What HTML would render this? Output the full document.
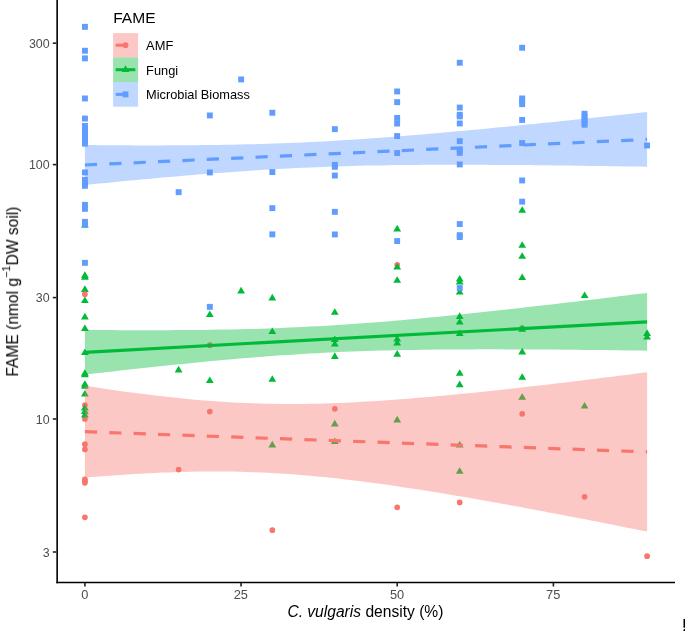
<!DOCTYPE html>
<html><head><meta charset="utf-8"><style>
html,body{margin:0;padding:0;background:#fff;}
svg{display:block;font-family:"Liberation Sans",sans-serif;}
</style></head><body>
<svg width="685" height="631" viewBox="0 0 685 631">
<rect width="685" height="631" fill="#fff"/>
<g fill="#F8766D">
<circle cx="84.9" cy="405.0" r="2.85"/>
<circle cx="84.9" cy="419.0" r="2.85"/>
<circle cx="84.9" cy="444.2" r="2.85"/>
<circle cx="84.9" cy="449.4" r="2.85"/>
<circle cx="84.9" cy="479.4" r="2.85"/>
<circle cx="84.9" cy="481.2" r="2.85"/>
<circle cx="84.9" cy="482.8" r="2.85"/>
<circle cx="84.9" cy="517.3" r="2.85"/>
<circle cx="178.6" cy="469.6" r="2.85"/>
<circle cx="209.8" cy="345.2" r="2.85"/>
<circle cx="209.8" cy="411.6" r="2.85"/>
<circle cx="272.3" cy="530.2" r="2.85"/>
<circle cx="334.8" cy="408.8" r="2.85"/>
<circle cx="397.2" cy="264.8" r="2.85"/>
<circle cx="397.2" cy="507.4" r="2.85"/>
<circle cx="459.7" cy="502.4" r="2.85"/>
<circle cx="522.2" cy="328.0" r="2.85"/>
<circle cx="522.2" cy="413.8" r="2.85"/>
<circle cx="584.6" cy="496.8" r="2.85"/>
<circle cx="647.1" cy="556.2" r="2.85"/>
</g>
<g fill="#00BA38">
<path d="M84.9,221.0 L88.8,227.6 L81.0,227.6Z"/>
<path d="M84.9,271.2 L88.8,277.9 L81.0,277.9Z"/>
<path d="M84.9,273.1 L88.8,279.7 L81.0,279.7Z"/>
<path d="M84.9,285.2 L88.8,291.9 L81.0,291.9Z"/>
<path d="M84.9,296.4 L88.8,303.0 L81.0,303.0Z"/>
<path d="M84.9,312.8 L88.8,319.4 L81.0,319.4Z"/>
<path d="M84.9,324.4 L88.8,331.1 L81.0,331.1Z"/>
<path d="M84.9,348.4 L88.8,355.0 L81.0,355.0Z"/>
<path d="M84.9,369.2 L88.8,375.8 L81.0,375.8Z"/>
<path d="M84.9,370.6 L88.8,377.2 L81.0,377.2Z"/>
<path d="M84.9,380.2 L88.8,386.8 L81.0,386.8Z"/>
<path d="M84.9,382.2 L88.8,388.8 L81.0,388.8Z"/>
<path d="M84.9,389.9 L88.8,396.5 L81.0,396.5Z"/>
<path d="M84.9,403.8 L88.8,410.4 L81.0,410.4Z"/>
<path d="M84.9,407.2 L88.8,413.9 L81.0,413.9Z"/>
<path d="M84.9,410.8 L88.8,417.4 L81.0,417.4Z"/>
<path d="M178.6,365.8 L182.5,372.4 L174.7,372.4Z"/>
<path d="M209.8,310.4 L213.7,317.0 L205.9,317.0Z"/>
<path d="M209.8,376.4 L213.7,383.0 L205.9,383.0Z"/>
<path d="M241.1,286.8 L245.0,293.4 L237.2,293.4Z"/>
<path d="M272.3,293.8 L276.2,300.4 L268.4,300.4Z"/>
<path d="M272.3,327.4 L276.2,334.0 L268.4,334.0Z"/>
<path d="M272.3,375.2 L276.2,381.8 L268.4,381.8Z"/>
<path d="M272.3,440.8 L276.2,447.4 L268.4,447.4Z"/>
<path d="M334.8,308.2 L338.7,314.8 L330.9,314.8Z"/>
<path d="M334.8,335.4 L338.7,342.1 L330.9,342.1Z"/>
<path d="M334.8,339.9 L338.7,346.5 L330.9,346.5Z"/>
<path d="M334.8,352.2 L338.7,358.9 L330.9,358.9Z"/>
<path d="M334.8,419.8 L338.7,426.4 L330.9,426.4Z"/>
<path d="M334.8,437.4 L338.7,444.0 L330.9,444.0Z"/>
<path d="M397.2,224.8 L401.1,231.4 L393.3,231.4Z"/>
<path d="M397.2,262.9 L401.1,269.5 L393.3,269.5Z"/>
<path d="M397.2,276.2 L401.1,282.8 L393.3,282.8Z"/>
<path d="M397.2,334.9 L401.1,341.5 L393.3,341.5Z"/>
<path d="M397.2,338.9 L401.1,345.5 L393.3,345.5Z"/>
<path d="M397.2,350.1 L401.1,356.7 L393.3,356.7Z"/>
<path d="M397.2,415.8 L401.1,422.4 L393.3,422.4Z"/>
<path d="M459.7,274.9 L463.6,281.5 L455.8,281.5Z"/>
<path d="M459.7,277.9 L463.6,284.5 L455.8,284.5Z"/>
<path d="M459.7,287.9 L463.6,294.5 L455.8,294.5Z"/>
<path d="M459.7,312.2 L463.6,318.9 L455.8,318.9Z"/>
<path d="M459.7,317.9 L463.6,324.5 L455.8,324.5Z"/>
<path d="M459.7,329.4 L463.6,336.0 L455.8,336.0Z"/>
<path d="M459.7,369.2 L463.6,375.8 L455.8,375.8Z"/>
<path d="M459.7,380.6 L463.6,387.2 L455.8,387.2Z"/>
<path d="M459.7,440.9 L463.6,447.5 L455.8,447.5Z"/>
<path d="M459.7,467.2 L463.6,473.8 L455.8,473.8Z"/>
<path d="M522.2,206.2 L526.1,212.8 L518.3,212.8Z"/>
<path d="M522.2,241.2 L526.1,247.8 L518.3,247.8Z"/>
<path d="M522.2,252.2 L526.1,258.8 L518.3,258.8Z"/>
<path d="M522.2,273.4 L526.1,280.0 L518.3,280.0Z"/>
<path d="M522.2,325.2 L526.1,331.8 L518.3,331.8Z"/>
<path d="M522.2,347.8 L526.1,354.4 L518.3,354.4Z"/>
<path d="M522.2,373.2 L526.1,379.8 L518.3,379.8Z"/>
<path d="M522.2,393.2 L526.1,399.8 L518.3,399.8Z"/>
<path d="M584.6,291.4 L588.5,298.1 L580.7,298.1Z"/>
<path d="M584.6,401.9 L588.5,408.5 L580.7,408.5Z"/>
<path d="M647.1,329.2 L651.0,335.9 L643.2,335.9Z"/>
<path d="M647.1,332.9 L651.0,339.5 L643.2,339.5Z"/>
</g>
<g fill="#F8766D"><circle cx="84.9" cy="294.2" r="2.85"/></g>
<g fill="#619CFF">
<rect x="82.0" y="23.9" width="5.9" height="5.9"/>
<rect x="82.0" y="47.8" width="5.9" height="5.9"/>
<rect x="82.0" y="55.4" width="5.9" height="5.9"/>
<rect x="82.0" y="95.5" width="5.9" height="5.9"/>
<rect x="82.0" y="115.6" width="5.9" height="5.9"/>
<rect x="82.0" y="123.0" width="5.9" height="5.9"/>
<rect x="82.0" y="126.0" width="5.9" height="5.9"/>
<rect x="82.0" y="129.1" width="5.9" height="5.9"/>
<rect x="82.0" y="132.1" width="5.9" height="5.9"/>
<rect x="82.0" y="135.1" width="5.9" height="5.9"/>
<rect x="82.0" y="138.1" width="5.9" height="5.9"/>
<rect x="82.0" y="140.7" width="5.9" height="5.9"/>
<rect x="82.0" y="169.5" width="5.9" height="5.9"/>
<rect x="82.0" y="176.9" width="5.9" height="5.9"/>
<rect x="82.0" y="180.1" width="5.9" height="5.9"/>
<rect x="82.0" y="182.9" width="5.9" height="5.9"/>
<rect x="82.0" y="201.9" width="5.9" height="5.9"/>
<rect x="82.0" y="205.9" width="5.9" height="5.9"/>
<rect x="82.0" y="218.9" width="5.9" height="5.9"/>
<rect x="82.0" y="221.9" width="5.9" height="5.9"/>
<rect x="82.0" y="259.9" width="5.9" height="5.9"/>
<rect x="175.7" y="189.2" width="5.9" height="5.9"/>
<rect x="206.9" y="112.5" width="5.9" height="5.9"/>
<rect x="206.9" y="169.5" width="5.9" height="5.9"/>
<rect x="206.9" y="303.9" width="5.9" height="5.9"/>
<rect x="238.2" y="76.5" width="5.9" height="5.9"/>
<rect x="269.4" y="109.8" width="5.9" height="5.9"/>
<rect x="269.4" y="169.1" width="5.9" height="5.9"/>
<rect x="269.4" y="205.2" width="5.9" height="5.9"/>
<rect x="269.4" y="231.4" width="5.9" height="5.9"/>
<rect x="331.9" y="126.2" width="5.9" height="5.9"/>
<rect x="331.9" y="161.9" width="5.9" height="5.9"/>
<rect x="331.9" y="163.9" width="5.9" height="5.9"/>
<rect x="331.9" y="172.6" width="5.9" height="5.9"/>
<rect x="331.9" y="208.9" width="5.9" height="5.9"/>
<rect x="331.9" y="231.5" width="5.9" height="5.9"/>
<rect x="394.2" y="88.5" width="5.9" height="5.9"/>
<rect x="394.2" y="99.2" width="5.9" height="5.9"/>
<rect x="394.2" y="115.0" width="5.9" height="5.9"/>
<rect x="394.2" y="120.6" width="5.9" height="5.9"/>
<rect x="394.2" y="133.1" width="5.9" height="5.9"/>
<rect x="394.2" y="150.1" width="5.9" height="5.9"/>
<rect x="394.2" y="238.1" width="5.9" height="5.9"/>
<rect x="456.8" y="59.8" width="5.9" height="5.9"/>
<rect x="456.8" y="104.6" width="5.9" height="5.9"/>
<rect x="456.8" y="111.8" width="5.9" height="5.9"/>
<rect x="456.8" y="113.5" width="5.9" height="5.9"/>
<rect x="456.8" y="120.5" width="5.9" height="5.9"/>
<rect x="456.8" y="138.2" width="5.9" height="5.9"/>
<rect x="456.8" y="146.9" width="5.9" height="5.9"/>
<rect x="456.8" y="149.9" width="5.9" height="5.9"/>
<rect x="456.8" y="161.5" width="5.9" height="5.9"/>
<rect x="456.8" y="221.1" width="5.9" height="5.9"/>
<rect x="456.8" y="232.2" width="5.9" height="5.9"/>
<rect x="456.8" y="234.1" width="5.9" height="5.9"/>
<rect x="456.8" y="285.1" width="5.9" height="5.9"/>
<rect x="519.2" y="44.8" width="5.9" height="5.9"/>
<rect x="519.2" y="95.5" width="5.9" height="5.9"/>
<rect x="519.2" y="98.3" width="5.9" height="5.9"/>
<rect x="519.2" y="101.2" width="5.9" height="5.9"/>
<rect x="519.2" y="117.0" width="5.9" height="5.9"/>
<rect x="519.2" y="140.1" width="5.9" height="5.9"/>
<rect x="519.2" y="177.5" width="5.9" height="5.9"/>
<rect x="519.2" y="198.7" width="5.9" height="5.9"/>
<rect x="581.6" y="110.8" width="5.9" height="5.9"/>
<rect x="581.6" y="114.0" width="5.9" height="5.9"/>
<rect x="581.6" y="117.0" width="5.9" height="5.9"/>
<rect x="581.6" y="119.5" width="5.9" height="5.9"/>
<rect x="581.6" y="121.8" width="5.9" height="5.9"/>
<rect x="644.1" y="142.5" width="5.9" height="5.9"/>
</g>
<path d="M84.9,385.7 L91.9,386.8 L99.0,387.8 L106.0,388.9 L113.0,389.9 L120.0,390.9 L127.1,391.9 L134.1,392.8 L141.1,393.7 L148.1,394.6 L155.2,395.5 L162.2,396.3 L169.2,397.1 L176.3,397.8 L183.3,398.6 L190.3,399.2 L197.3,399.9 L204.4,400.5 L211.4,401.0 L218.4,401.5 L225.5,402.0 L232.5,402.4 L239.5,402.7 L246.5,403.1 L253.6,403.3 L260.6,403.5 L267.6,403.7 L274.6,403.8 L281.7,403.9 L288.7,404.0 L295.7,403.9 L302.8,403.9 L309.8,403.8 L316.8,403.7 L323.8,403.5 L330.9,403.3 L337.9,403.0 L344.9,402.7 L351.9,402.4 L359.0,402.0 L366.0,401.6 L373.0,401.2 L380.1,400.8 L387.1,400.3 L394.1,399.8 L401.1,399.3 L408.2,398.7 L415.2,398.1 L422.2,397.5 L429.2,396.9 L436.3,396.3 L443.3,395.7 L450.3,395.0 L457.4,394.3 L464.4,393.6 L471.4,392.9 L478.4,392.2 L485.5,391.5 L492.5,390.7 L499.5,389.9 L506.6,389.2 L513.6,388.4 L520.6,387.6 L527.6,386.8 L534.7,386.0 L541.7,385.2 L548.7,384.4 L555.7,383.5 L562.8,382.7 L569.8,381.9 L576.8,381.0 L583.9,380.2 L590.9,379.3 L597.9,378.4 L604.9,377.5 L612.0,376.7 L619.0,375.8 L626.0,374.9 L633.0,374.0 L640.1,373.1 L647.1,372.2 L647.1,531.6 L640.1,530.2 L633.0,528.8 L626.0,527.4 L619.0,526.0 L612.0,524.6 L604.9,523.2 L597.9,521.8 L590.9,520.5 L583.9,519.1 L576.8,517.7 L569.8,516.4 L562.8,515.0 L555.7,513.7 L548.7,512.4 L541.7,511.0 L534.7,509.7 L527.6,508.4 L520.6,507.1 L513.6,505.8 L506.6,504.5 L499.5,503.2 L492.5,502.0 L485.5,500.7 L478.4,499.5 L471.4,498.3 L464.4,497.1 L457.4,495.9 L450.3,494.7 L443.3,493.5 L436.3,492.3 L429.2,491.2 L422.2,490.1 L415.2,489.0 L408.2,487.9 L401.1,486.9 L394.1,485.8 L387.1,484.8 L380.1,483.8 L373.0,482.9 L366.0,482.0 L359.0,481.1 L351.9,480.2 L344.9,479.4 L337.9,478.6 L330.9,477.8 L323.8,477.1 L316.8,476.4 L309.8,475.8 L302.8,475.2 L295.7,474.6 L288.7,474.1 L281.7,473.6 L274.6,473.2 L267.6,472.8 L260.6,472.5 L253.6,472.2 L246.5,472.0 L239.5,471.8 L232.5,471.6 L225.5,471.5 L218.4,471.5 L211.4,471.5 L204.4,471.5 L197.3,471.6 L190.3,471.7 L183.3,471.9 L176.3,472.1 L169.2,472.4 L162.2,472.6 L155.2,473.0 L148.1,473.3 L141.1,473.7 L134.1,474.1 L127.1,474.5 L120.0,475.0 L113.0,475.5 L106.0,476.0 L99.0,476.6 L91.9,477.1 L84.9,477.7Z" fill="#F8766D" fill-opacity="0.4"/>
<line x1="84.9" y1="431.7" x2="647.1" y2="451.9" stroke="#F8766D" stroke-width="3.2" stroke-dasharray="12.2 12.2"/>
<path d="M84.9,330.0 L91.9,330.0 L99.0,330.1 L106.0,330.1 L113.0,330.1 L120.0,330.2 L127.1,330.2 L134.1,330.2 L141.1,330.2 L148.1,330.2 L155.2,330.2 L162.2,330.2 L169.2,330.2 L176.3,330.1 L183.3,330.1 L190.3,330.0 L197.3,329.9 L204.4,329.9 L211.4,329.8 L218.4,329.6 L225.5,329.5 L232.5,329.4 L239.5,329.2 L246.5,329.1 L253.6,328.9 L260.6,328.7 L267.6,328.4 L274.6,328.2 L281.7,327.9 L288.7,327.6 L295.7,327.3 L302.8,327.0 L309.8,326.6 L316.8,326.3 L323.8,325.9 L330.9,325.5 L337.9,325.0 L344.9,324.6 L351.9,324.1 L359.0,323.6 L366.0,323.1 L373.0,322.5 L380.1,322.0 L387.1,321.4 L394.1,320.8 L401.1,320.2 L408.2,319.5 L415.2,318.9 L422.2,318.2 L429.2,317.6 L436.3,316.9 L443.3,316.2 L450.3,315.5 L457.4,314.8 L464.4,314.0 L471.4,313.3 L478.4,312.6 L485.5,311.8 L492.5,311.0 L499.5,310.3 L506.6,309.5 L513.6,308.7 L520.6,307.9 L527.6,307.1 L534.7,306.3 L541.7,305.5 L548.7,304.7 L555.7,303.9 L562.8,303.1 L569.8,302.2 L576.8,301.4 L583.9,300.6 L590.9,299.7 L597.9,298.9 L604.9,298.0 L612.0,297.2 L619.0,296.3 L626.0,295.5 L633.0,294.6 L640.1,293.8 L647.1,292.9 L647.1,350.7 L640.1,350.6 L633.0,350.5 L626.0,350.4 L619.0,350.3 L612.0,350.2 L604.9,350.1 L597.9,350.0 L590.9,350.0 L583.9,349.9 L576.8,349.8 L569.8,349.8 L562.8,349.7 L555.7,349.6 L548.7,349.6 L541.7,349.5 L534.7,349.5 L527.6,349.4 L520.6,349.4 L513.6,349.4 L506.6,349.4 L499.5,349.3 L492.5,349.3 L485.5,349.3 L478.4,349.3 L471.4,349.4 L464.4,349.4 L457.4,349.4 L450.3,349.5 L443.3,349.5 L436.3,349.6 L429.2,349.7 L422.2,349.8 L415.2,349.9 L408.2,350.0 L401.1,350.1 L394.1,350.3 L387.1,350.4 L380.1,350.6 L373.0,350.8 L366.0,351.0 L359.0,351.3 L351.9,351.6 L344.9,351.8 L337.9,352.1 L330.9,352.5 L323.8,352.8 L316.8,353.2 L309.8,353.6 L302.8,354.0 L295.7,354.4 L288.7,354.9 L281.7,355.3 L274.6,355.8 L267.6,356.3 L260.6,356.9 L253.6,357.4 L246.5,358.0 L239.5,358.6 L232.5,359.2 L225.5,359.8 L218.4,360.5 L211.4,361.1 L204.4,361.8 L197.3,362.5 L190.3,363.2 L183.3,363.9 L176.3,364.6 L169.2,365.3 L162.2,366.0 L155.2,366.8 L148.1,367.5 L141.1,368.3 L134.1,369.1 L127.1,369.8 L120.0,370.6 L113.0,371.4 L106.0,372.2 L99.0,373.0 L91.9,373.8 L84.9,374.6Z" fill="#00BA38" fill-opacity="0.4"/>
<line x1="84.9" y1="352.3" x2="647.1" y2="321.8" stroke="#00BA38" stroke-width="3.2"/>
<path d="M84.9,145.1 L91.9,145.1 L99.0,145.2 L106.0,145.2 L113.0,145.3 L120.0,145.3 L127.1,145.3 L134.1,145.4 L141.1,145.4 L148.1,145.4 L155.2,145.4 L162.2,145.4 L169.2,145.3 L176.3,145.3 L183.3,145.3 L190.3,145.2 L197.3,145.2 L204.4,145.1 L211.4,145.0 L218.4,144.9 L225.5,144.8 L232.5,144.7 L239.5,144.5 L246.5,144.3 L253.6,144.2 L260.6,144.0 L267.6,143.7 L274.6,143.5 L281.7,143.3 L288.7,143.0 L295.7,142.7 L302.8,142.4 L309.8,142.1 L316.8,141.7 L323.8,141.4 L330.9,141.0 L337.9,140.6 L344.9,140.1 L351.9,139.7 L359.0,139.2 L366.0,138.8 L373.0,138.3 L380.1,137.8 L387.1,137.2 L394.1,136.7 L401.1,136.2 L408.2,135.6 L415.2,135.0 L422.2,134.4 L429.2,133.8 L436.3,133.2 L443.3,132.6 L450.3,132.0 L457.4,131.3 L464.4,130.7 L471.4,130.0 L478.4,129.4 L485.5,128.7 L492.5,128.0 L499.5,127.3 L506.6,126.7 L513.6,126.0 L520.6,125.3 L527.6,124.6 L534.7,123.9 L541.7,123.1 L548.7,122.4 L555.7,121.7 L562.8,121.0 L569.8,120.2 L576.8,119.5 L583.9,118.8 L590.9,118.0 L597.9,117.3 L604.9,116.6 L612.0,115.8 L619.0,115.1 L626.0,114.3 L633.0,113.6 L640.1,112.8 L647.1,112.0 L647.1,166.8 L640.1,166.6 L633.0,166.5 L626.0,166.4 L619.0,166.3 L612.0,166.2 L604.9,166.1 L597.9,166.0 L590.9,165.9 L583.9,165.8 L576.8,165.7 L569.8,165.6 L562.8,165.5 L555.7,165.4 L548.7,165.3 L541.7,165.3 L534.7,165.2 L527.6,165.1 L520.6,165.1 L513.6,165.0 L506.6,164.9 L499.5,164.9 L492.5,164.9 L485.5,164.8 L478.4,164.8 L471.4,164.8 L464.4,164.8 L457.4,164.7 L450.3,164.7 L443.3,164.8 L436.3,164.8 L429.2,164.8 L422.2,164.8 L415.2,164.9 L408.2,165.0 L401.1,165.0 L394.1,165.1 L387.1,165.2 L380.1,165.4 L373.0,165.5 L366.0,165.6 L359.0,165.8 L351.9,166.0 L344.9,166.2 L337.9,166.4 L330.9,166.6 L323.8,166.9 L316.8,167.2 L309.8,167.5 L302.8,167.8 L295.7,168.1 L288.7,168.4 L281.7,168.8 L274.6,169.2 L267.6,169.6 L260.6,170.0 L253.6,170.5 L246.5,170.9 L239.5,171.4 L232.5,171.9 L225.5,172.4 L218.4,172.9 L211.4,173.5 L204.4,174.0 L197.3,174.6 L190.3,175.2 L183.3,175.8 L176.3,176.4 L169.2,177.0 L162.2,177.6 L155.2,178.2 L148.1,178.9 L141.1,179.5 L134.1,180.2 L127.1,180.8 L120.0,181.5 L113.0,182.2 L106.0,182.9 L99.0,183.5 L91.9,184.2 L84.9,184.9Z" fill="#619CFF" fill-opacity="0.4"/>
<line x1="84.9" y1="165.0" x2="647.1" y2="139.4" stroke="#619CFF" stroke-width="3.2" stroke-dasharray="12.2 12.2"/>
<g stroke="#000" stroke-width="1.6" fill="none" stroke-linecap="butt">
<path d="M57.15,0 V583.3"/>
<path d="M56.35,582.5 H675"/>
</g><g stroke="#222" stroke-width="1.6">
<path d="M52.8,43.2 H56.4"/>
<path d="M52.8,164.6 H56.4"/>
<path d="M52.8,297.6 H56.4"/>
<path d="M52.8,419.0 H56.4"/>
<path d="M52.8,552.0 H56.4"/>
<path d="M84.9,583 V586.5"/>
<path d="M241.05,583 V586.5"/>
<path d="M397.2,583 V586.5"/>
<path d="M553.4,583 V586.5"/>
</g>
<g font-size="12.4px" fill="#4D4D4D" style="filter:grayscale(1)">
<text x="49.6" y="47.900000000000006" text-anchor="end">300</text>
<text x="49.6" y="169.29999999999998" text-anchor="end">100</text>
<text x="49.6" y="302.3" text-anchor="end">30</text>
<text x="49.6" y="423.7" text-anchor="end">10</text>
<text x="49.6" y="556.7" text-anchor="end">3</text>
<text x="84.7" y="598.8" text-anchor="middle" font-size="12.8px">0</text>
<text x="240.85000000000002" y="598.8" text-anchor="middle" font-size="12.8px">25</text>
<text x="397.0" y="598.8" text-anchor="middle" font-size="12.8px">50</text>
<text x="553.1999999999999" y="598.8" text-anchor="middle" font-size="12.8px">75</text>
</g>

<g>
<rect x="113.1" y="33.1" width="25" height="24.4" fill="#F8766D" fill-opacity="0.4"/>
<rect x="113.1" y="57.5" width="25" height="24.6" fill="#00BA38" fill-opacity="0.4"/>
<rect x="113.1" y="82.1" width="25" height="24.6" fill="#619CFF" fill-opacity="0.4"/>
<line x1="115.7" y1="45.2" x2="127.9" y2="45.2" stroke="#F8766D" stroke-width="3"/>
<circle cx="125.5" cy="45.2" r="2.85" fill="#F8766D"/>
<line x1="115.7" y1="69.7" x2="135.3" y2="69.7" stroke="#00BA38" stroke-width="3"/>
<g fill="#00BA38"><path d="M125.5,65.2 L129.4,71.9 L121.6,71.9Z"/></g>
<line x1="115.7" y1="94.4" x2="127.9" y2="94.4" stroke="#619CFF" stroke-width="3"/>
<rect x="122.55" y="91.45" width="5.9" height="5.9" fill="#619CFF"/>
<text x="113.2" y="23.2" font-size="14.8px" textLength="42.4" lengthAdjust="spacingAndGlyphs" fill="#000" style="filter:grayscale(1)">FAME</text>
<g font-size="13.4px" lengthAdjust="spacingAndGlyphs" fill="#000" style="filter:grayscale(1)">
<text x="146.1" y="49.9" textLength="27.2" lengthAdjust="spacingAndGlyphs">AMF</text>
<text x="146.1" y="74.5" textLength="32.0" lengthAdjust="spacingAndGlyphs">Fungi</text>
<text x="146.1" y="99.2" textLength="103.8" lengthAdjust="spacingAndGlyphs">Microbial Biomass</text>
</g>
</g>

<g style="filter:grayscale(1)">
<text x="365.4" y="617" font-size="15.6px" fill="#000" text-anchor="middle"><tspan font-style="italic">C. vulgaris</tspan> density (%)</text>
<text transform="translate(18.1,291.6) rotate(-90)" font-size="15.6px" fill="#000" text-anchor="middle">FAME (nmol g<tspan font-size="10.9px" dy="-8.2">−1</tspan><tspan dy="8.2">DW soil)</tspan></text>
</g>
<rect x="683.5" y="619" width="2" height="8.7" fill="#000"/>
<circle cx="685.5" cy="631" r="2.2" fill="#000"/>

</svg>
</body></html>
